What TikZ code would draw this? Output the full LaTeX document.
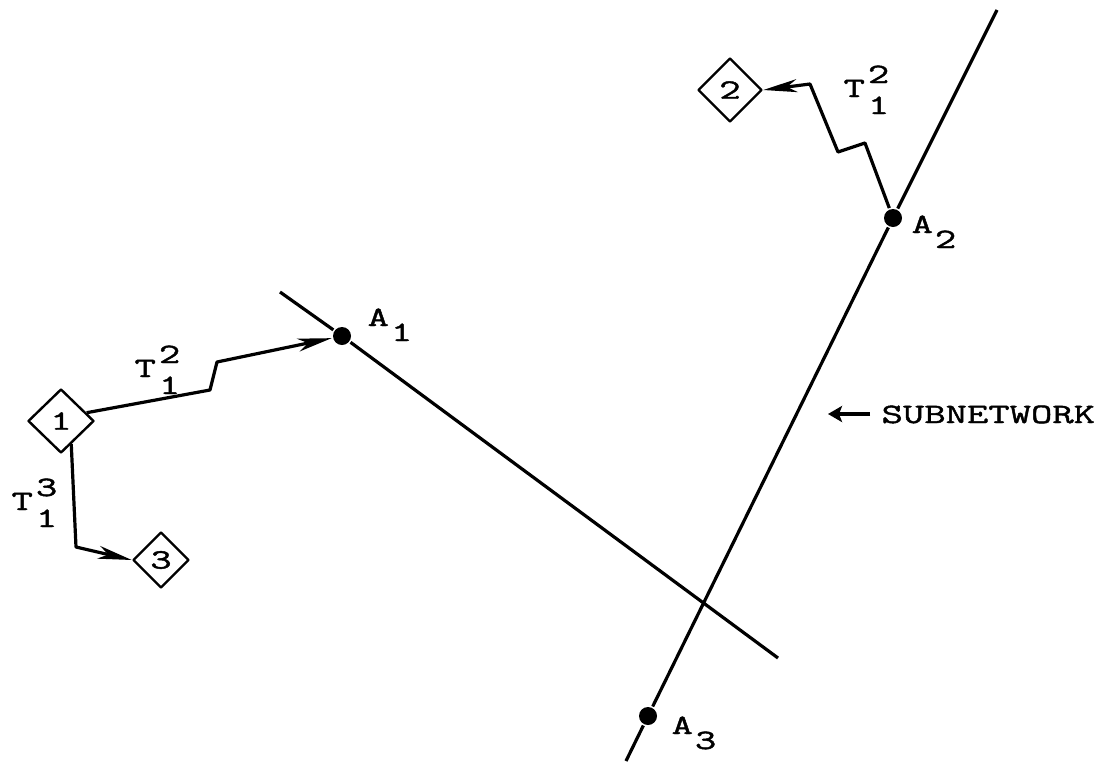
\documentclass[tikz,border=0pt]{standalone}
\usepackage{fontspec}
\usetikzlibrary{shapes.geometric,arrows.meta,calc}
\newfontfamily\tw[FakeStretch=1.48,FakeBold=1.6]{Latin Modern Mono}
\newcommand{\Tlab}[2]{T\hspace{3pt}\rlap{\raisebox{14pt}{#2}}\raisebox{-17pt}{#1}}
\newcommand{\Alab}[1]{A\hspace{2pt}\raisebox{-15pt}{#1}}
\begin{document}
\begin{tikzpicture}[x=1pt,y=-1pt,
  line width=3.2pt, line join=round,
  every node/.style={font=\tw\fontsize{28}{30}\selectfont, inner sep=0pt},
  box/.style={draw, diamond, line width=2.4pt, minimum width=66pt, minimum height=64pt},
  junction/.style={circle, fill, minimum size=18pt},
  lab/.style={anchor=base west},
  tip/.style={-{Stealth[length=34pt,width=13pt,inset=10pt]}}]
\useasboundingbox (0,0) rectangle (1111,761);
% subnetwork lines
\coordinate (s1) at (997,10);
\coordinate (s2) at (626,761);
\coordinate (r1) at (280,292);
\coordinate (r2) at (778,658);
\node[junction] (A1) at (342,336) {};
\node[junction] (A2) at (893,218) {};
\node[junction] (A3) at (648,716) {};
\draw (s1) -- (A2) -- (A3) -- (s2);
\draw (r1) -- (A1) -- (r2);
% diamonds
\node[box] (n1) at (61,421) {1};
\node[box, minimum width=56pt, minimum height=56pt] (n3) at (161,560) {3};
\node[box, minimum width=64pt, minimum height=64pt] (n2) at (730,90) {2};
% paths
\coordinate (b1) at (210,390);
\coordinate (b2) at (217,362);
\draw[tip] ($(n1.east)!0.25!(n1.north)$) -- (b1) -- (b2) -- (A1);
\coordinate (c1) at (76,547);
\draw[tip] ($(n1.south)!0.3!(n1.east)$) -- (c1) -- (n3.west);
\coordinate (d1) at (865,143);
\coordinate (d2) at (838,152);
\coordinate (d3) at (810,84);
\draw[tip] (A2) -- (d1) -- (d2) -- (d3) -- (n2.east);
% labels
\node[lab] (t1) at (133,377) {\Tlab{1}{2}};
\node[lab] (t2) at (10,510) {\Tlab{1}{3}};
\node[lab] (t3) at (842,97) {\Tlab{1}{2}};
\node[lab] (la1) at (366,326) {\Alab{1}};
\node[lab] (la2) at (910,233) {\Alab{2}};
\node[lab] (la3) at (670,734) {\Alab{3}};
% subnetwork label
\node[lab] (sub) at (880,423) {SUBNETWORK};
\coordinate (sa) at (870,414);
\draw[line width=4pt, -{Stealth[length=14pt,width=16pt,inset=3pt]}] (sa) -- ++(-42,0);
\end{tikzpicture}
\end{document}
